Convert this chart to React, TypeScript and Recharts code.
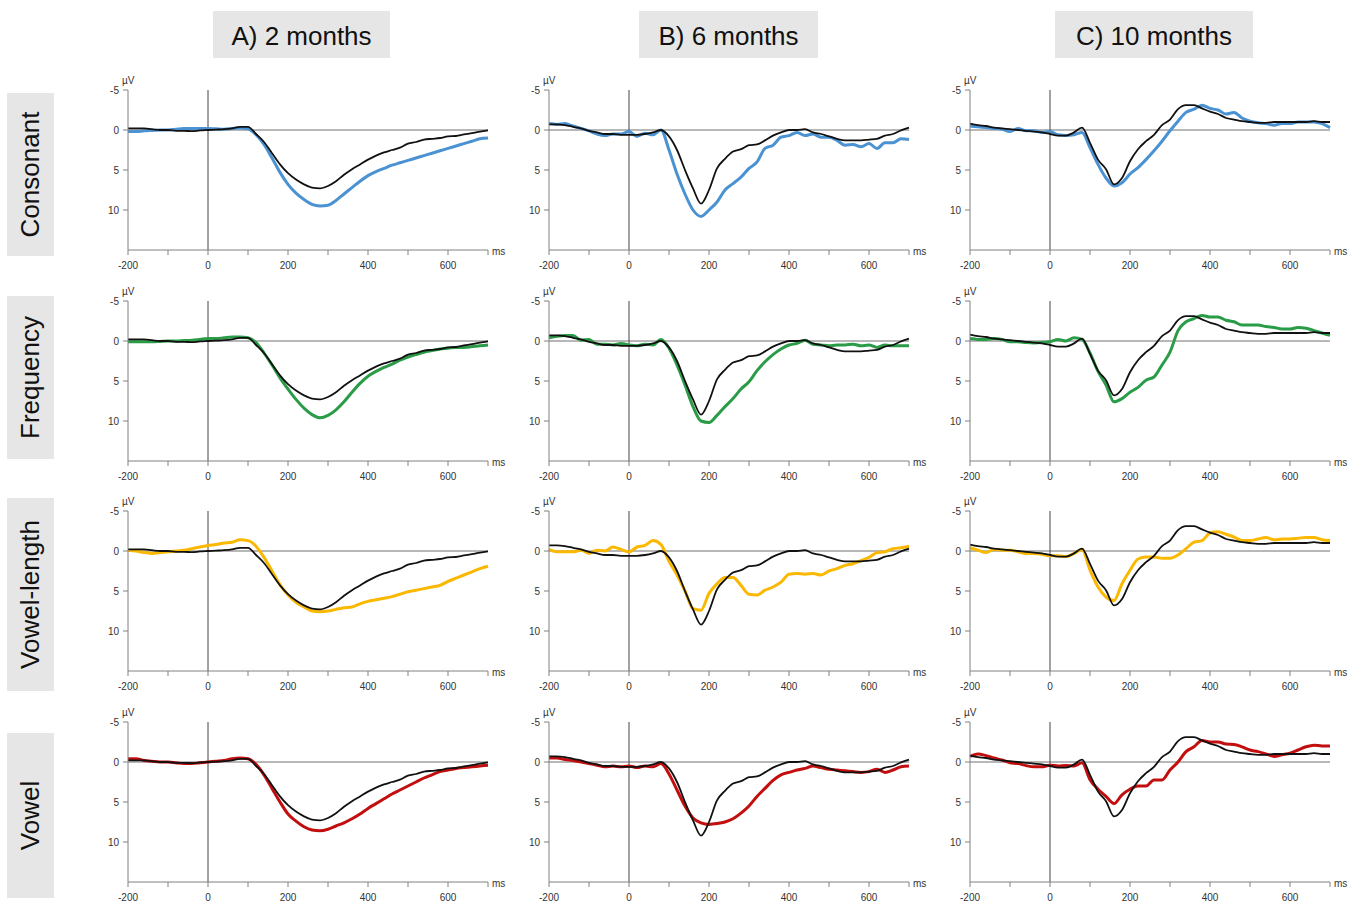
import { LineChart, Line, XAxis, YAxis, ReferenceLine } from "recharts";

const AGES = ["A) 2 months", "B) 6 months", "C) 10 months"];
const CONTRASTS = ["Consonant", "Frequency", "Vowel-length", "Vowel"];

// ms
const TIMES = [
  -200, -180, -160, -140, -120, -100, -80, -60, -40, -20,
  0, 20, 40, 60, 80, 100, 120, 140, 160, 180,
  200, 220, 240, 260, 280, 300, 320, 340, 360, 380,
  400, 420, 440, 460, 480, 500, 520, 540, 560, 580,
  600, 620, 640, 660, 680, 700,
];

// µV, standard (black) per age
const STD_2M = [
  -0.2, -0.2, -0.2, -0.1, 0, 0, 0.1, 0.1, 0.15, 0.05,
  0, -0.05, -0.1, -0.2, -0.4, -0.4, 0.5, 1.5, 2.9, 4.3,
  5.4, 6.2, 6.8, 7.2, 7.3, 7.0, 6.4, 5.6, 4.9, 4.3,
  3.7, 3.2, 2.8, 2.5, 2.2, 1.7, 1.5, 1.2, 1.1, 1.0,
  0.8, 0.75, 0.55, 0.4, 0.2, 0.05,
];
const STD_6M = [
  -0.7, -0.7, -0.6, -0.4, -0.2, 0.1, 0.3, 0.5, 0.5, 0.6,
  0.6, 0.6, 0.5, 0.3, 0, 0.8, 2.5, 5.0, 7.3, 9.2,
  7.5, 4.8, 3.6, 2.7, 2.4, 1.9, 1.8, 1.3, 0.7, 0.3,
  0, 0, -0.1, 0.3, 0.5, 0.8, 1.1, 1.3, 1.3, 1.3,
  1.2, 1.1, 0.7, 0.5, 0.05, -0.3,
];
const STD_10M = [
  -0.8, -0.6, -0.5, -0.3, -0.2, -0.1, 0, 0.1, 0.2, 0.3,
  0.5, 0.7, 0.7, 0.3, -0.3, 1.6, 3.7, 4.9, 6.8, 6.0,
  3.9, 2.4, 1.4, 0.6, -0.6, -1.3, -2.6, -3.1, -3.1, -2.7,
  -2.3, -2.0, -1.5, -1.3, -1.1, -1.0, -0.9, -0.9, -1.0, -1.0,
  -1.0, -1.0, -1.0, -1.1, -1.0, -1.0,
];

// deviants
const CONS_2M = [
  0.2, 0.2, 0.1, 0.05, 0, 0, -0.1, -0.2, -0.2, -0.2,
  -0.2, -0.15, -0.1, -0.2, -0.25, -0.15, 0.6, 1.8, 3.5, 5.3,
  6.8, 7.9, 8.7, 9.3, 9.5, 9.4, 8.8, 8.0, 7.2, 6.4,
  5.7, 5.2, 4.8, 4.4, 4.1, 3.8, 3.5, 3.2, 2.9, 2.6,
  2.3, 2.0, 1.7, 1.4, 1.1, 1.0,
];
const CONS_6M = [
  -0.8, -0.7, -0.8, -0.5, -0.2, 0.1, 0.5, 0.7, 0.5, 0.5,
  0.2, 0.8, 0.4, 0.6, 0, 2.5, 5.5, 8.0, 10.0, 10.8,
  10.0, 9.0, 7.5, 6.7, 5.9, 4.8, 4.0, 2.3, 1.9, 0.9,
  0.7, 0.3, 0.7, 0.5, 0.9, 0.9, 1.3, 1.9, 1.8, 2.1,
  1.7, 2.3, 1.6, 1.6, 1.1, 1.2,
];
const CONS_10M = [
  -0.5, -0.4, -0.3, -0.2, -0.1, 0.2, -0.2, 0.1, 0.1, 0.3,
  0.2, 0.6, 0.7, 0.6, 0.3, 2.2, 4.3, 6.0, 7.0, 6.6,
  5.5, 4.7, 3.7, 2.6, 1.4, 0.1, -1.1, -2.2, -2.6, -3.1,
  -2.7, -2.5, -2.0, -2.2, -1.5, -1.1, -0.9, -0.8, -0.6, -0.8,
  -0.8, -1.0, -1.0, -1.0, -0.8, -0.3,
];
const FREQ_2M = [
  0.1, 0.1, 0.1, 0.1, 0.05, 0, 0, -0.05, -0.1, -0.2,
  -0.3, -0.3, -0.4, -0.5, -0.5, -0.4, 0.2, 1.5, 3.0, 4.6,
  6.0, 7.3, 8.4, 9.2, 9.6, 9.3, 8.6, 7.6, 6.4, 5.3,
  4.4, 3.8, 3.3, 2.9, 2.4, 2.0, 1.7, 1.4, 1.2, 1.0,
  0.9, 0.8, 0.8, 0.7, 0.6, 0.5,
];
const FREQ_6M = [
  -0.4, -0.6, -0.7, -0.7, -0.1, -0.2, 0.4, 0.4, 0.5, 0.3,
  0.5, 0.6, 0.4, 0.5, -0.2, 0.9, 3.0, 5.5, 8.2, 10.0,
  10.2, 9.3, 8.2, 7.2, 6.0, 5.1, 3.7, 2.6, 1.7, 1.0,
  0.5, 0.3, -0.1, 0.4, 0.5, 0.6, 0.5, 0.5, 0.4, 0.6,
  0.5, 0.8, 0.5, 0.6, 0.6, 0.6,
];
const FREQ_10M = [
  -0.3, -0.2, -0.2, -0.3, -0.2, 0.1, 0.1, 0.2, 0.25, 0.2,
  0.1, -0.2, 0, -0.4, -0.2, 1.5, 3.8, 5.5, 7.6, 7.2,
  6.4, 5.8, 4.9, 4.5, 3.0, 1.4, -1.3, -2.4, -2.8, -3.2,
  -3.0, -3.0, -2.6, -2.4, -2.0, -2.0, -2.0, -1.8, -1.7, -1.5,
  -1.5, -1.7, -1.6, -1.3, -1.0, -0.7,
];
const VLEN_2M = [
  -0.1, 0, 0.2, 0.3, 0.2, 0.1, 0, -0.1, -0.3, -0.5,
  -0.7, -0.8, -1.0, -1.1, -1.4, -1.3, -0.6, 0.8, 2.5, 4.2,
  5.5, 6.4, 7.0, 7.5, 7.6, 7.5, 7.3, 7.1, 7.0, 6.6,
  6.3, 6.1, 5.9, 5.7, 5.4, 5.1, 4.9, 4.7, 4.5, 4.3,
  3.8, 3.4, 3.0, 2.6, 2.2, 1.9,
];
const VLEN_6M = [
  -0.2, 0.1, 0.1, 0.1, -0.1, 0.3, -0.1, 0, -0.5, -0.2,
  0.1, -0.5, -0.7, -1.3, -0.8, 1.3, 3.0, 5.0, 7.2, 7.4,
  5.3, 4.1, 3.3, 3.3, 4.3, 5.4, 5.5, 4.9, 4.5, 3.9,
  2.9, 2.8, 2.9, 2.8, 3.0, 2.5, 2.2, 1.8, 1.6, 1.2,
  0.8, 0.2, 0.1, -0.3, -0.4, -0.6,
];
const VLEN_10M = [
  -0.4, -0.1, 0.2, -0.2, -0.1, -0.1, 0.1, 0.3, 0.3, 0.4,
  0.6, 0.6, 0.7, 0.3, -0.2, 2.4, 4.5, 5.75, 6.2, 4.1,
  2.4, 1.0, 0.75, 0.75, 0.9, 0.9, 0.5, -0.3, -1.1, -1.3,
  -2.25, -2.4, -2.1, -1.75, -1.3, -1.3, -1.5, -1.7, -1.4, -1.5,
  -1.5, -1.6, -1.7, -1.7, -1.4, -1.3,
];
const VOW_2M = [
  -0.4, -0.4, -0.2, -0.1, 0, 0, 0.1, 0.2, 0.2, 0.1,
  0, -0.1, -0.2, -0.4, -0.5, -0.4, 0.3, 1.6, 3.3, 5.0,
  6.5, 7.4, 8.1, 8.5, 8.6, 8.4, 8.0, 7.6, 7.1, 6.5,
  5.8, 5.2, 4.6, 4.0, 3.5, 3.0, 2.5, 2.0, 1.6, 1.2,
  1.0, 0.8, 0.7, 0.6, 0.5, 0.4,
];
const VOW_6M = [
  -0.5, -0.5, -0.3, -0.2, 0, 0.2, 0.4, 0.6, 0.5, 0.6,
  0.5, 0.7, 0.5, 0.6, 0.2, 1.5, 3.5, 5.5, 7.0, 7.6,
  7.8, 7.7, 7.5, 7.1, 6.4, 5.5, 4.3, 3.3, 2.3, 1.6,
  1.3, 1.0, 0.8, 0.5, 0.7, 0.9, 1.0, 1.1, 1.2, 1.3,
  1.2, 0.9, 1.3, 1.0, 0.6, 0.5,
];
const VOW_10M = [
  -0.7, -1.0, -0.8, -0.5, -0.25, 0.1, 0.2, 0.45, 0.6, 0.6,
  0.4, 0.5, 0.45, 0.5, 0.1, 2.2, 3.4, 4.3, 5.2, 4.1,
  3.4, 3.0, 3.0, 2.25, 2.25, 1.0, 0, -1.3, -1.9, -2.7,
  -2.5, -2.5, -2.25, -2.2, -1.9, -1.5, -1.3, -1.0, -0.7, -0.9,
  -1.1, -1.5, -1.9, -2.1, -2.0, -2.0,
];

const STANDARD = [STD_2M, STD_6M, STD_10M];
const DEVIANTS = [
  [CONS_2M, CONS_6M, CONS_10M],
  [FREQ_2M, FREQ_6M, FREQ_10M],
  [VLEN_2M, VLEN_6M, VLEN_10M],
  [VOW_2M, VOW_6M, VOW_10M],
];
const ROW_COLORS = ["#4a92d2", "#2a9c48", "#fbb800", "#c20e0e"];

const X_TICKS = [-200, -100, 0, 100, 200, 300, 400, 500, 600, 700];
const X_LABELS = [-200, 0, 200, 400, 600];
const Y_TICKS = [-5, 0, 5, 10];

// layout
const PLOT_LEFT = [128, 549, 970];
const PLOT_TOP = [90, 301, 511, 722];
const TITLE_BOX = [
  { left: 213, width: 177 },
  { left: 639, width: 179 },
  { left: 1055, width: 198 },
];
const ROW_BOX = [
  { top: 93, height: 163 },
  { top: 296, height: 163 },
  { top: 498, height: 193 },
  { top: 733, height: 165 },
];

const FONT = "'Liberation Sans', Arial, Helvetica, sans-serif";

function Panel({ row, col }: { row: number; col: number }) {
  const std = STANDARD[col];
  const dev = DEVIANTS[row][col];
  const data = TIMES.map((t, i) => ({ t, std: std[i], dev: dev[i] }));
  return (
    <div style={{ position: "absolute", left: PLOT_LEFT[col] - 48, top: PLOT_TOP[row] - 20, width: 430, height: 215 }}>
      <LineChart width={430} height={215} data={data} margin={{ top: 20, right: 22, bottom: 5, left: 8 }}>
        <XAxis
          dataKey="t"
          type="number"
          domain={[-200, 700]}
          ticks={X_TICKS}
          interval={0}
          tickFormatter={(v: number) => (X_LABELS.includes(v) ? String(v) : "")}
          height={30}
          tickSize={5}
          tickMargin={7}
          stroke="#808080"
          tick={{ fill: "#333", fontSize: 10 }}
        />
        <YAxis
          type="number"
          domain={[-5, 15]}
          reversed
          ticks={Y_TICKS}
          interval={0}
          width={40}
          tickSize={5}
          tickMargin={4}
          stroke="#808080"
          tick={{ fill: "#333", fontSize: 10 }}
        />
        <ReferenceLine y={0} stroke="#707070" strokeWidth={1} />
        <ReferenceLine x={0} stroke="#444" strokeWidth={1} />
        <Line type="monotone" dataKey="dev" stroke={ROW_COLORS[row]} strokeWidth={3} dot={false} isAnimationActive={false} />
        <Line type="monotone" dataKey="std" stroke="#111" strokeWidth={1.8} dot={false} isAnimationActive={false} />
      </LineChart>
      <span style={{ position: "absolute", left: 42, top: 5, fontSize: 10, color: "#333" }}>µV</span>
      <span style={{ position: "absolute", left: 412, top: 176, fontSize: 10, color: "#333" }}>ms</span>
    </div>
  );
}

export default function App() {
  return (
    <div style={{ position: "absolute", left: 0, top: 0, width: 1358, height: 902, background: "#fff", fontFamily: FONT }}>
      {AGES.map((a, c) => (
        <div
          key={a}
          style={{
            position: "absolute",
            left: TITLE_BOX[c].left,
            width: TITLE_BOX[c].width,
            top: 11,
            height: 47,
            paddingTop: 3,
            boxSizing: "border-box",
            background: "#e6e6e6",
            display: "flex",
            alignItems: "center",
            justifyContent: "center",
            fontSize: 26,
            color: "#111",
          }}
        >
          {a}
        </div>
      ))}
      {CONTRASTS.map((name, r) => (
        <div
          key={name}
          style={{
            position: "absolute",
            left: 7,
            width: 47,
            top: ROW_BOX[r].top,
            height: ROW_BOX[r].height,
            background: "#e6e6e6",
            display: "flex",
            alignItems: "center",
            justifyContent: "center",
          }}
        >
          <span style={{ transform: "rotate(-90deg)", whiteSpace: "nowrap", fontSize: 26, color: "#111" }}>{name}</span>
        </div>
      ))}
      {CONTRASTS.map((name, r) => AGES.map((a, c) => <Panel key={name + a} row={r} col={c} />))}
    </div>
  );
}
